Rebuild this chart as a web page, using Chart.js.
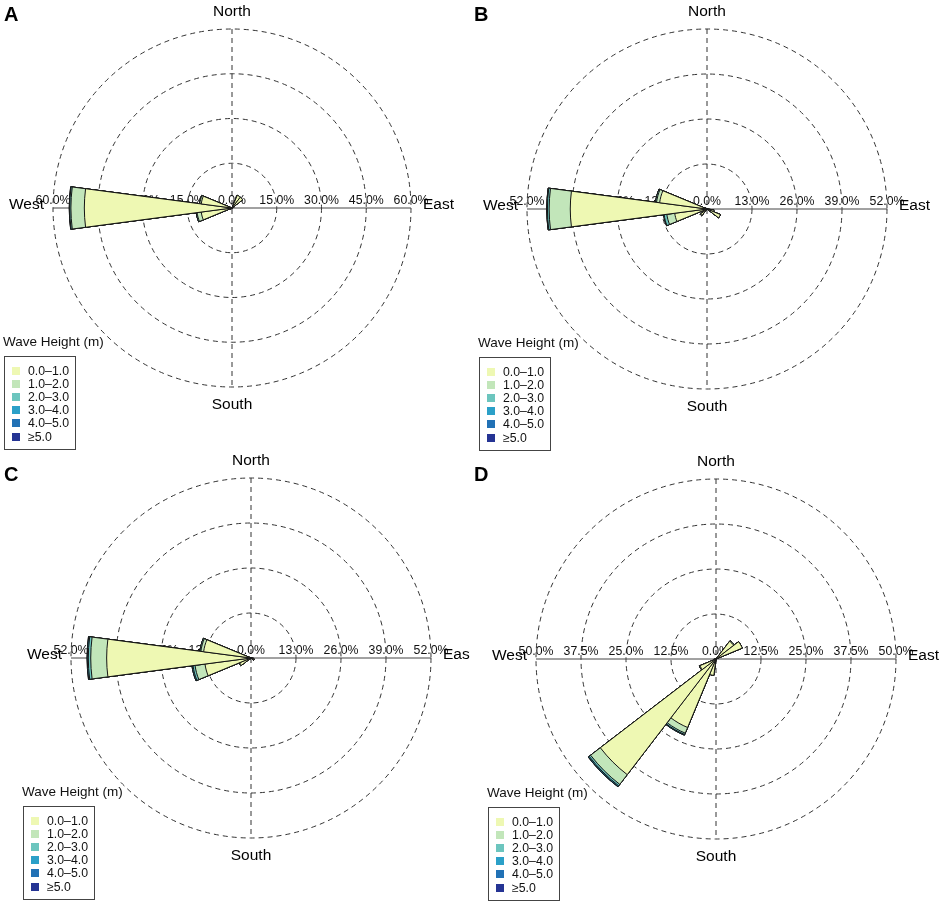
<!DOCTYPE html>
<html>
<head>
<meta charset="utf-8">
<script src="https://cdn.jsdelivr.net/npm/chart.js@4.4.1/dist/chart.umd.min.js"></script>
<style>
  body { margin: 0; background: #fff; }
  #page { position: relative; width: 941px; height: 902px; overflow: hidden;
          font-family: "Liberation Sans", Arial, Helvetica, sans-serif; color: #111; }
  #page canvas { position: absolute; }
  .lg-title { position: absolute; font-size: 13.5px; line-height: 14px; white-space: nowrap; }
  .lg-box { position: absolute; width: 72px; height: 94px; box-sizing: border-box;
            border: 1px solid #444; background: #fff; }
  .lg-row { position: absolute; left: 7px; height: 13px; font-size: 12.3px; line-height: 13px; white-space: nowrap; }
  .lg-sw { position: absolute; left: 0; top: 2px; width: 8px; height: 8px; }
  .lg-txt { position: absolute; left: 16px; top: 0; }
</style>
</head>
<body>
<div id="page"></div>
<script>
// wave directions (degrees from north, clockwise), 15-degree sectors
const directions = [0, 15, 30, 45, 60, 75, 90, 105, 120, 135, 150, 165,
                    180, 195, 210, 225, 240, 255, 270, 285, 300, 315, 330, 345];

const binLabels = ['0.0\u20131.0', '1.0\u20132.0', '2.0\u20133.0', '3.0\u20134.0', '4.0\u20135.0', '\u22655.0'];
const binColors = ['#EEF8B3', '#C2E6BA', '#6CC5BE', '#2BA0C8', '#2171B5', '#253494'];

// frequency (%) per direction, one array per wave height bin
// panel A
const a_0_1 = [0, 0, 4.6, 4.5, 0.6, 0, 0, 0, 0, 0, 0, 0, 0, 0, 0, 0.4, 0.8, 10.4, 49.5, 10.4, 0, 0, 0, 0];
const a_1_2 = [0, 0, 0, 0, 0, 0, 0, 0, 0, 0, 0, 0, 0, 0, 0, 0, 0, 1.4, 4.5, 0.5, 0, 0, 0, 0];
const a_2_3 = [0, 0, 0, 0, 0, 0, 0, 0, 0, 0, 0, 0, 0, 0, 0, 0, 0, 0.3, 0.4, 0.1, 0, 0, 0, 0];
const a_3_4 = [0, 0, 0, 0, 0, 0, 0, 0, 0, 0, 0, 0, 0, 0, 0, 0, 0, 0, 0.1, 0, 0, 0, 0, 0];
const a_4_5 = [0, 0, 0, 0, 0, 0, 0, 0, 0, 0, 0, 0, 0, 0, 0, 0, 0, 0, 0.05, 0, 0, 0, 0, 0];
const a_5up = [0, 0, 0, 0, 0, 0, 0, 0, 0, 0, 0, 0, 0, 0, 0, 0, 0, 0, 0, 0, 0, 0, 0, 0];
// panel B
const b_0_1 = [0, 0, 0, 0, 0, 0, 0, 2.0, 4.2, 0, 0, 0, 0, 0, 0, 2.3, 1.2, 9.4, 39.5, 13.8, 0.5, 0, 0, 0];
const b_1_2 = [0, 0, 0, 0, 0, 0, 0, 0, 0, 0, 0, 0, 0, 0, 0, 0.2, 0, 2.3, 6.1, 0.9, 0, 0, 0, 0];
const b_2_3 = [0, 0, 0, 0, 0, 0, 0, 0, 0, 0, 0, 0, 0, 0, 0, 0, 0, 0.8, 0.5, 0.3, 0, 0, 0, 0];
const b_3_4 = [0, 0, 0, 0, 0, 0, 0, 0, 0, 0, 0, 0, 0, 0, 0, 0, 0, 0.15, 0.15, 0, 0, 0, 0, 0];
const b_4_5 = [0, 0, 0, 0, 0, 0, 0, 0, 0, 0, 0, 0, 0, 0, 0, 0, 0, 0, 0.05, 0, 0, 0, 0, 0];
const b_5up = [0, 0, 0, 0, 0, 0, 0, 0, 0, 0, 0, 0, 0, 0, 0, 0, 0, 0, 0, 0, 0, 0, 0, 0];
// panel C
const c_0_1 = [0, 0, 0, 0, 0, 0, 0, 0.8, 1.0, 0, 0, 0, 0, 0, 0, 0.6, 3.5, 13.4, 41.7, 13.8, 0.4, 0, 0, 0];
const c_1_2 = [0, 0, 0, 0, 0, 0, 0, 0, 0, 0, 0, 0, 0, 0, 0, 0, 0.2, 2.9, 4.6, 0.8, 0, 0, 0, 0];
const c_2_3 = [0, 0, 0, 0, 0, 0, 0, 0, 0, 0, 0, 0, 0, 0, 0, 0, 0, 0.6, 0.7, 0.3, 0, 0, 0, 0];
const c_3_4 = [0, 0, 0, 0, 0, 0, 0, 0, 0, 0, 0, 0, 0, 0, 0, 0, 0, 0.3, 0.3, 0, 0, 0, 0, 0];
const c_4_5 = [0, 0, 0, 0, 0, 0, 0, 0, 0, 0, 0, 0, 0, 0, 0, 0, 0, 0, 0.05, 0, 0, 0, 0, 0];
const c_5up = [0, 0, 0, 0, 0, 0, 0, 0, 0, 0, 0, 0, 0, 0, 0, 0, 0, 0, 0, 0, 0, 0, 0, 0];
// panel D
const d_0_1 = [0, 0, 0, 6.2, 7.9, 0, 0, 0, 0, 0, 0, 0, 0, 4.6, 20.6, 40.5, 4.8, 0.6, 0, 0, 0, 0, 0, 0];
const d_1_2 = [0, 0, 0, 0.2, 0, 0, 0, 0, 0, 0, 0, 0, 0, 0, 1.7, 3.4, 0.2, 0, 0, 0, 0, 0, 0, 0];
const d_2_3 = [0, 0, 0, 0, 0, 0, 0, 0, 0, 0, 0, 0, 0, 0, 0.4, 0.5, 0, 0, 0, 0, 0, 0, 0, 0];
const d_3_4 = [0, 0, 0, 0, 0, 0, 0, 0, 0, 0, 0, 0, 0, 0, 0.2, 0.3, 0, 0, 0, 0, 0, 0, 0, 0];
const d_4_5 = [0, 0, 0, 0, 0, 0, 0, 0, 0, 0, 0, 0, 0, 0, 0, 0.05, 0, 0, 0, 0, 0, 0, 0, 0];
const d_5up = [0, 0, 0, 0, 0, 0, 0, 0, 0, 0, 0, 0, 0, 0, 0, 0, 0, 0, 0, 0, 0, 0, 0, 0];

// radial tick values per panel
const ticksA = [0, 15, 30, 45, 60];
const ticksB = [0, 13, 26, 39, 52];
const ticksC = [0, 13, 26, 39, 52];
const ticksD = [0, 12.5, 25, 37.5, 50];

const FONT = '"Liberation Sans", Arial, Helvetica, sans-serif';
Chart.defaults.font.family = FONT;

// layout of the four panels on the page
const panels = [
  { letter: 'A', bins: [a_0_1, a_1_2, a_2_3, a_3_4, a_4_5, a_5up], ticks: ticksA,
    ox: 0, oy: 0, w: 470, h: 451, cx: 232, cy: 208, R: 179, letterY: 21 },
  { letter: 'B', bins: [b_0_1, b_1_2, b_2_3, b_3_4, b_4_5, b_5up], ticks: ticksB,
    ox: 470, oy: 0, w: 471, h: 451, cx: 707, cy: 209, R: 180, letterY: 21 },
  { letter: 'C', bins: [c_0_1, c_1_2, c_2_3, c_3_4, c_4_5, c_5up], ticks: ticksC,
    ox: 0, oy: 451, w: 470, h: 451, cx: 251, cy: 658, R: 180, letterY: 481 },
  { letter: 'D', bins: [d_0_1, d_1_2, d_2_3, d_3_4, d_4_5, d_5up], ticks: ticksD,
    ox: 470, oy: 451, w: 471, h: 451, cx: 716, cy: 659, R: 180, letterY: 481 }
];

// stacked rose: each dataset holds the running total up to its bin,
// dataset 0 is drawn last so smaller totals sit on top of larger ones
function cumulate(bins) {
  return bins.map((b, k) => directions.map((d, i) => {
    let s = 0;
    for (let j = 0; j <= k; j++) s += bins[j][i];
    return s;
  }));
}

const roseDecor = {
  id: 'roseDecor',
  beforeDatasetsDraw(chart) {
    const r = chart.scales.r;
    const ctx = chart.ctx;
    const cx = r.xCenter, cy = r.yCenter, R = r.drawingArea;
    ctx.save();
    ctx.lineWidth = 1;
    ctx.strokeStyle = '#333';
    ctx.setLineDash([5, 4]);
    ctx.beginPath();
    ctx.moveTo(cx, cy - R);
    ctx.lineTo(cx, cy + R);
    ctx.stroke();
    ctx.setLineDash([]);
    ctx.strokeStyle = '#444';
    ctx.beginPath();
    ctx.moveTo(cx - R, cy);
    ctx.lineTo(cx + R, cy);
    ctx.stroke();
    ctx.font = '12.3px ' + FONT;
    ctx.fillStyle = '#111';
    ctx.textAlign = 'center';
    ctx.textBaseline = 'alphabetic';
    r.ticks.forEach(t => {
      const d = r.getDistanceFromCenterForValue(t.value);
      const txt = t.value.toFixed(1) + '%';
      ctx.fillText(txt, cx + d, cy - 4);
      if (d > 0) ctx.fillText(txt, cx - d, cy - 4);
    });
    ctx.restore();
  },
  afterDraw(chart, args, opts) {
    const r = chart.scales.r;
    const ctx = chart.ctx;
    const cx = r.xCenter, cy = r.yCenter, R = r.drawingArea;
    ctx.save();
    ctx.fillStyle = '#000';
    ctx.font = '15.5px ' + FONT;
    ctx.textBaseline = 'alphabetic';
    ctx.textAlign = 'center';
    ctx.fillText('North', cx, cy - R - 13);
    ctx.fillText('South', cx, cy + R + 22);
    ctx.textAlign = 'right';
    ctx.fillText('West', cx - R - 9, cy + 1);
    ctx.textAlign = 'left';
    ctx.fillText('East', cx + R + 12, cy + 1);
    ctx.font = 'bold 20px ' + FONT;
    ctx.fillText(opts.letter, 4, opts.letterY);
    ctx.restore();
  }
};

const page = document.getElementById('page');

panels.forEach(p => {
  const canvas = document.createElement('canvas');
  canvas.width = p.w;
  canvas.height = p.h;
  canvas.style.left = p.ox + 'px';
  canvas.style.top = p.oy + 'px';
  canvas.style.width = p.w + 'px';
  canvas.style.height = p.h + 'px';
  page.appendChild(canvas);

  const lx = p.cx - p.ox, ly = p.cy - p.oy;
  const totals = cumulate(p.bins);
  const ticks = p.ticks;

  new Chart(canvas, {
    type: 'polarArea',
    data: {
      labels: directions.map(d => d + '\u00b0'),
      datasets: totals.map((vals, k) => ({
        label: binLabels[k],
        data: vals,
        backgroundColor: binColors[k],
        borderColor: '#151515',
        borderWidth: 1
      }))
    },
    options: {
      responsive: false,
      animation: false,
      events: [],
      layout: {
        padding: {
          left: lx - p.R,
          right: p.w - (lx + p.R),
          top: ly - p.R,
          bottom: p.h - (ly + p.R)
        }
      },
      plugins: {
        legend: { display: false },
        tooltip: { enabled: false },
        roseDecor: { letter: p.letter, letterY: p.letterY - p.oy }
      },
      scales: {
        r: {
          min: ticks[0],
          max: ticks[ticks.length - 1],
          startAngle: -7.5,
          afterBuildTicks: s => { s.ticks = ticks.map(v => ({ value: v })); },
          ticks: { display: false },
          grid: { circular: true, color: '#333', lineWidth: 1 },
          border: { dash: [5, 4] },
          angleLines: { display: false },
          pointLabels: { display: false }
        }
      }
    },
    plugins: [roseDecor]
  });

  // legend: title above a framed key
  const title = document.createElement('div');
  title.className = 'lg-title';
  title.textContent = 'Wave Height (m)';
  title.style.left = (p.cx - 229) + 'px';
  title.style.top = (p.cy + 127) + 'px';
  page.appendChild(title);

  const box = document.createElement('div');
  box.className = 'lg-box';
  box.style.left = (p.cx - 228) + 'px';
  box.style.top = (p.cy + 148) + 'px';
  binLabels.forEach((lab, k) => {
    const row = document.createElement('div');
    row.className = 'lg-row';
    row.style.top = (7.5 + 13.2 * k) + 'px';
    const sw = document.createElement('span');
    sw.className = 'lg-sw';
    sw.style.background = binColors[k];
    const tx = document.createElement('span');
    tx.className = 'lg-txt';
    tx.textContent = lab;
    row.appendChild(sw);
    row.appendChild(tx);
    box.appendChild(row);
  });
  page.appendChild(box);
});
</script>
</body>
</html>
